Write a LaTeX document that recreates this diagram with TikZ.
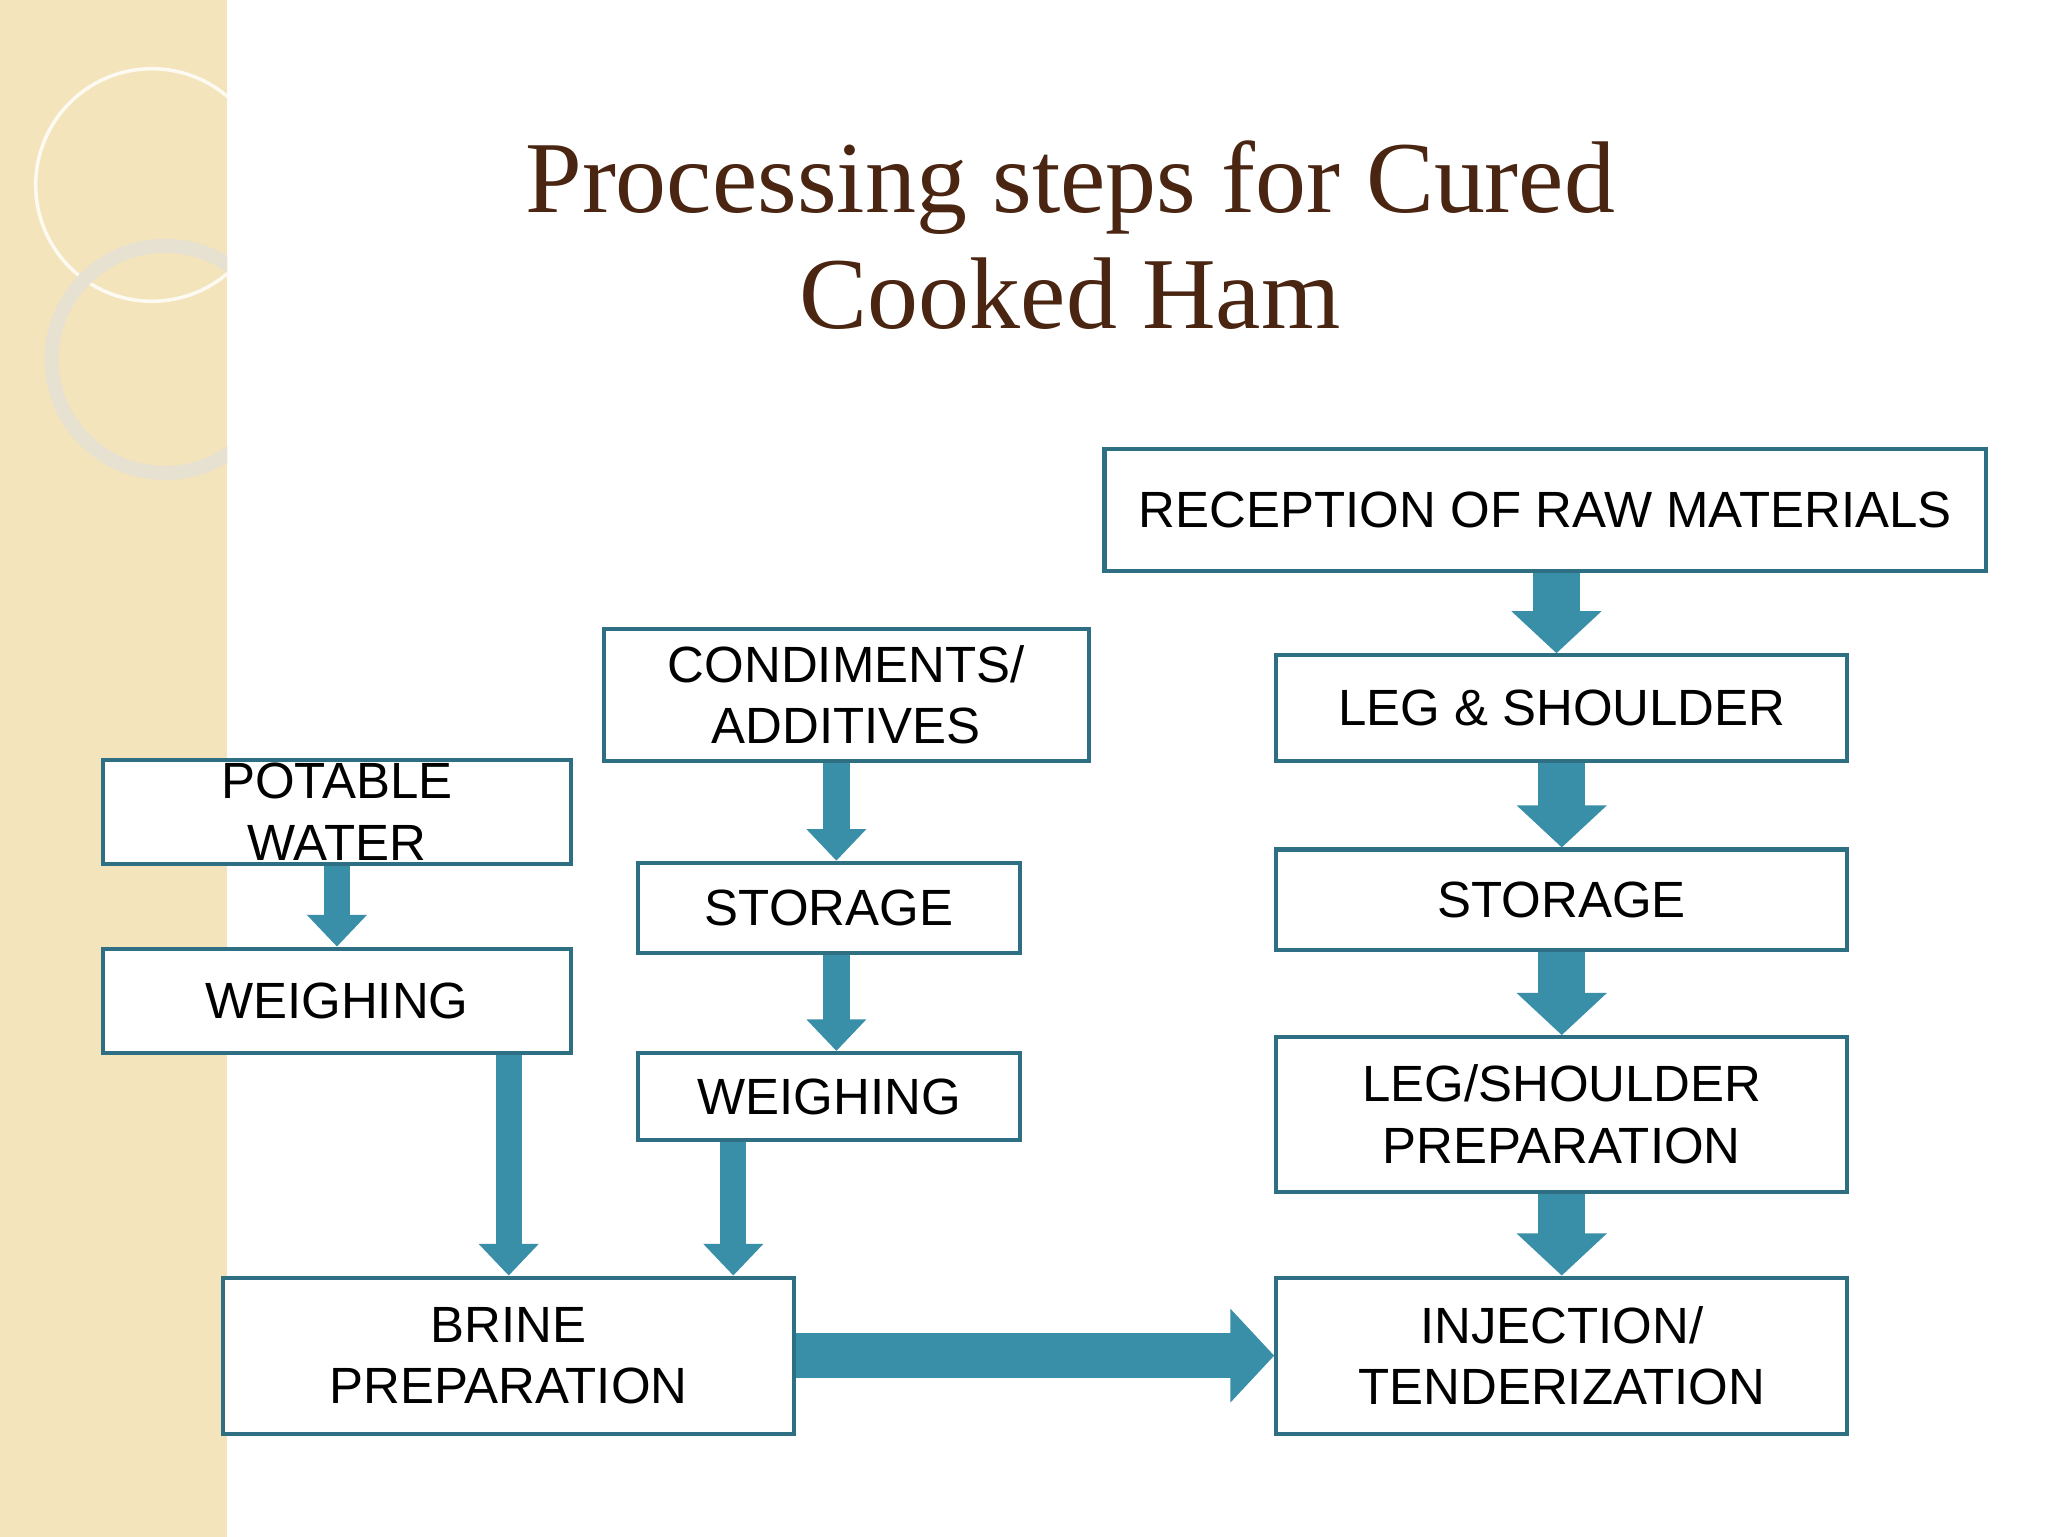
\documentclass[tikz,border=0pt]{standalone}
\usepackage{fontspec}
\setmainfont{Liberation Sans}
\newfontfamily\titlefont{Liberation Serif}
\usetikzlibrary{arrows.meta}
\definecolor{boxline}{HTML}{2F6F84}
\definecolor{arr}{HTML}{3A8FA8}
\definecolor{band}{HTML}{F3E4BC}
\definecolor{ttl}{HTML}{4A2511}
\begin{document}
\begin{tikzpicture}[x=0.01321cm,y=-0.01321cm,
  box/.style={draw=boxline,line width=1.2pt,fill=white,inner sep=0pt,align=center,
    font=\fontsize{14.5pt}{17.5pt}\selectfont},
  big/.style={draw=arr,line width=13.5pt,-{Triangle[width=25pt,length=12pt]},shorten >=0pt},
  small/.style={draw=arr,line width=7.5pt,-{Triangle[width=16.5pt,length=9pt]}}]
\useasboundingbox (0,0) rectangle (1550,1163);
\fill[white] (0,0) rectangle (1550,1163);
\fill[band] (0,0) rectangle (172,1163);
\begin{scope}
\clip (0,0) rectangle (172,1163);
\draw[white!80!band,line width=1pt] (115,140) circle (88);
\draw[white!75!gray!60!band,line width=4pt] (125,272) circle (86);
\end{scope}
\node[font=\titlefont\fontsize{29pt}{33pt}\selectfont,text=ttl,align=center] (title) at (810,178) {Processing steps for Cured\\Cooked Ham};
\newcommand{\bx}[6]{\node[box,minimum width={(#4-#2)*0.01321cm},minimum height={(#5-#3)*0.01321cm}] (#1) at ({(#2+#4)/2},{(#3+#5)/2}) {#6};}
\bx{recep}{836}{340}{1503}{432}{RECEPTION OF RAW MATERIALS}
\bx{leg}{966}{496}{1398}{576}{LEG \& SHOULDER}
\bx{storR}{966}{643}{1398}{719}{STORAGE}
\bx{prep}{966}{785}{1398}{902}{LEG/SHOULDER\\PREPARATION}
\bx{inj}{966}{967}{1398}{1085}{INJECTION/\\TENDERIZATION}
\bx{cond}{457}{476}{824}{576}{CONDIMENTS/\\ADDITIVES}
\bx{storM}{483}{653}{772}{721}{STORAGE}
\bx{weighM}{483}{797}{772}{863}{WEIGHING}
\bx{water}{78}{575}{432}{654}{POTABLE\\WATER}
\bx{weighL}{78}{718}{432}{797}{WEIGHING}
\bx{brine}{169}{967}{601}{1085}{BRINE\\PREPARATION}
\coordinate (c1) at (1178,0);
\draw[big] (recep.south -| c1) -- (leg.north -| c1);
\draw[big] (leg.south) -- (storR.north);
\draw[big] (storR.south) -- (prep.north);
\draw[big] (prep.south) -- (inj.north);
\coordinate (c2) at (633,0);
\draw[small] (cond.south -| c2) -- (storM.north -| c2);
\draw[small] (storM.south -| c2) -- (weighM.north -| c2);
\draw[small] (water.south) -- (weighL.north);
\coordinate (c3) at (385,0);
\coordinate (c4) at (555,0);
\draw[small] (weighL.south -| c3) -- (brine.north -| c3);
\draw[small] (weighM.south -| c4) -- (brine.north -| c4);
\draw[draw=arr,line width=12.8pt,-{Triangle[width=26pt,length=12.5pt]}] (brine.east) -- (inj.west);
\end{tikzpicture}
\end{document}
